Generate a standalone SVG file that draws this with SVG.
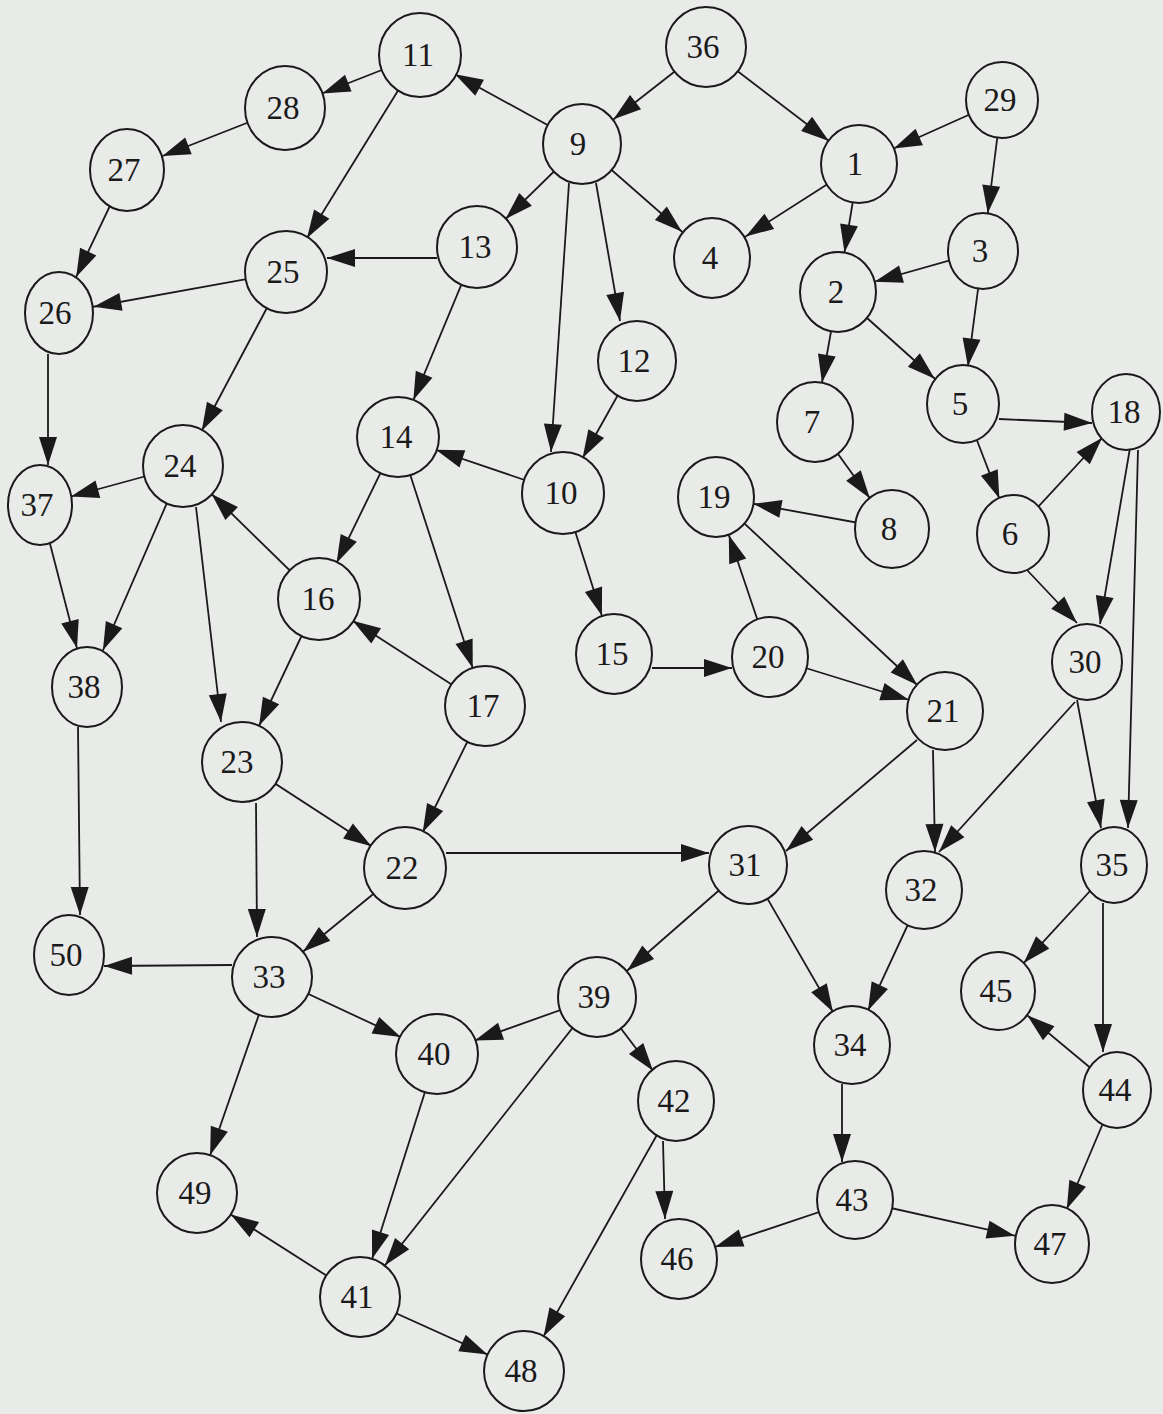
<svg xmlns="http://www.w3.org/2000/svg" width="1163" height="1414" viewBox="0 0 1163 1414">
<defs>
<style>
.bg{fill:#e9ebe9}
line{stroke:#1a1a1a;stroke-width:1.8;fill:none}
.a40{marker-end:url(#a40)}
.a38{marker-end:url(#a38)}
.a35{marker-end:url(#a35)}
.a32{marker-end:url(#a32)}
.a0{marker-end:url(#a0)}
ellipse{fill:#e9ebe9;stroke:#1a1a1a;stroke-width:2}
text{font-family:"Liberation Serif","Times New Roman",serif;font-size:33px;fill:#1a1a1a;text-anchor:middle}
</style>
<marker id="a40" viewBox="0 0 28 18" markerWidth="28" markerHeight="18" markerUnits="userSpaceOnUse" refX="68" refY="9" orient="auto" overflow="visible"><path d="M0,0 L28,9 L0,18 Z" fill="#1a1a1a"/></marker>
<marker id="a38" viewBox="0 0 28 18" markerWidth="28" markerHeight="18" markerUnits="userSpaceOnUse" refX="66" refY="9" orient="auto" overflow="visible"><path d="M0,0 L28,9 L0,18 Z" fill="#1a1a1a"/></marker>
<marker id="a35" viewBox="0 0 28 18" markerWidth="28" markerHeight="18" markerUnits="userSpaceOnUse" refX="63" refY="9" orient="auto" overflow="visible"><path d="M0,0 L28,9 L0,18 Z" fill="#1a1a1a"/></marker>
<marker id="a32" viewBox="0 0 28 18" markerWidth="28" markerHeight="18" markerUnits="userSpaceOnUse" refX="60" refY="9" orient="auto" overflow="visible"><path d="M0,0 L28,9 L0,18 Z" fill="#1a1a1a"/></marker>
<marker id="a0" viewBox="0 0 28 18" markerWidth="28" markerHeight="18" markerUnits="userSpaceOnUse" refX="28" refY="9" orient="auto" overflow="visible"><path d="M0,0 L28,9 L0,18 Z" fill="#1a1a1a"/></marker>
</defs>
<rect class="bg" x="0" y="0" width="1163" height="1414"/>
<g id="connectors">
<line class="a40" x1="420" y1="55" x2="285" y2="108"/>
<line class="a38" x1="285" y1="108" x2="127" y2="170"/>
<line class="a40" x1="127" y1="170" x2="59" y2="313"/>
<line class="a40" x1="420" y1="55" x2="286" y2="272"/>
<line class="a40" x1="582" y1="144" x2="420" y2="55"/>
<line class="a40" x1="706" y1="47" x2="582" y2="144"/>
<line class="a38" x1="706" y1="47" x2="859" y2="164"/>
<line class="a38" x1="1002" y1="100" x2="859" y2="164"/>
<line class="a38" x1="1002" y1="100" x2="983" y2="251"/>
<line class="a40" x1="582" y1="144" x2="477" y2="247"/>
<line class="a40" x1="582" y1="144" x2="712" y2="258"/>
<line class="a0" x1="569" y1="183" x2="551" y2="452"/>
<line class="a0" x1="596" y1="183" x2="620" y2="321"/>
<line class="a40" x1="859" y1="164" x2="712" y2="258"/>
<line class="a40" x1="859" y1="164" x2="838" y2="292"/>
<line class="a38" x1="983" y1="251" x2="838" y2="292"/>
<line class="a38" x1="983" y1="251" x2="963" y2="404"/>
<line class="a40" x1="838" y1="292" x2="815" y2="422"/>
<line class="a38" x1="838" y1="292" x2="963" y2="404"/>
<line class="a0" x1="437" y1="258" x2="327" y2="258"/>
<line class="a40" x1="477" y1="247" x2="398" y2="437"/>
<line class="a35" x1="286" y1="272" x2="59" y2="313"/>
<line class="a40" x1="286" y1="272" x2="183" y2="466"/>
<line class="a0" x1="48" y1="354" x2="48" y2="465"/>
<line class="a40" x1="637" y1="361" x2="563" y2="493"/>
<line class="a40" x1="563" y1="493" x2="398" y2="437"/>
<line class="a0" x1="999" y1="419" x2="1092" y2="423"/>
<line class="a38" x1="963" y1="404" x2="1013" y2="534"/>
<line class="a38" x1="815" y1="422" x2="892" y2="529"/>
<line class="a38" x1="892" y1="529" x2="716" y2="497"/>
<line class="a35" x1="1013" y1="534" x2="1126" y2="412"/>
<line class="a0" x1="1027" y1="570" x2="1077" y2="623"/>
<line class="a0" x1="1130" y1="448" x2="1100" y2="624"/>
<line class="a0" x1="1138" y1="450" x2="1128" y2="828"/>
<line class="a32" x1="183" y1="466" x2="40" y2="505"/>
<line class="a40" x1="183" y1="466" x2="87" y2="687"/>
<line class="a0" x1="196" y1="507" x2="221" y2="722"/>
<line class="a40" x1="319" y1="599" x2="183" y2="466"/>
<line class="a40" x1="398" y1="437" x2="319" y2="599"/>
<line class="a40" x1="398" y1="437" x2="485" y2="706"/>
<line class="a40" x1="563" y1="493" x2="614" y2="654"/>
<line class="a0" x1="652" y1="668" x2="732" y2="668"/>
<line class="a40" x1="770" y1="657" x2="716" y2="497"/>
<line class="a38" x1="716" y1="497" x2="945" y2="711"/>
<line class="a38" x1="770" y1="657" x2="945" y2="711"/>
<line class="a40" x1="40" y1="505" x2="87" y2="687"/>
<line class="a40" x1="485" y1="706" x2="319" y2="599"/>
<line class="a40" x1="319" y1="599" x2="242" y2="762"/>
<line class="a40" x1="485" y1="706" x2="405" y2="868"/>
<line class="a40" x1="242" y1="762" x2="405" y2="868"/>
<line class="a0" x1="256" y1="803" x2="257" y2="937"/>
<line class="a0" x1="78" y1="727" x2="80" y2="915"/>
<line class="a0" x1="446" y1="853" x2="709" y2="853"/>
<line class="a40" x1="405" y1="868" x2="272" y2="977"/>
<line class="a0" x1="917" y1="740" x2="786" y2="851"/>
<line class="a0" x1="933" y1="750" x2="935" y2="852"/>
<line class="a0" x1="1075" y1="702" x2="939" y2="852"/>
<line class="a0" x1="1077" y1="700" x2="1101" y2="828"/>
<line class="a0" x1="232" y1="965" x2="104" y2="966"/>
<line class="a40" x1="272" y1="977" x2="437" y2="1054"/>
<line class="a40" x1="272" y1="977" x2="197" y2="1193"/>
<line class="a40" x1="748" y1="865" x2="597" y2="997"/>
<line class="a38" x1="748" y1="865" x2="852" y2="1045"/>
<line class="a38" x1="924" y1="890" x2="852" y2="1045"/>
<line class="a38" x1="1114" y1="865" x2="998" y2="991"/>
<line class="a0" x1="1103" y1="903" x2="1103" y2="1052"/>
<line class="a38" x1="1117" y1="1090" x2="998" y2="991"/>
<line class="a38" x1="1117" y1="1090" x2="1052" y2="1244"/>
<line class="a40" x1="597" y1="997" x2="437" y2="1054"/>
<line class="a38" x1="597" y1="997" x2="676" y2="1101"/>
<line class="a40" x1="597" y1="997" x2="360" y2="1297"/>
<line class="a40" x1="437" y1="1054" x2="360" y2="1297"/>
<line class="a0" x1="663" y1="1141" x2="665" y2="1219"/>
<line class="a40" x1="676" y1="1101" x2="524" y2="1371"/>
<line class="a0" x1="842" y1="1084" x2="842" y2="1162"/>
<line class="a38" x1="855" y1="1200" x2="679" y2="1259"/>
<line class="a38" x1="855" y1="1200" x2="1052" y2="1244"/>
<line class="a40" x1="360" y1="1297" x2="197" y2="1193"/>
<line class="a40" x1="360" y1="1297" x2="524" y2="1371"/>
</g>
<g id="n1"><ellipse cx="859" cy="164" rx="38" ry="39"/><text x="855" y="175">1</text></g>
<g id="n2"><ellipse cx="838" cy="292" rx="38" ry="40"/><text x="836" y="303">2</text></g>
<g id="n3"><ellipse cx="983" cy="251" rx="35" ry="38"/><text x="980" y="262">3</text></g>
<g id="n4"><ellipse cx="712" cy="258" rx="38" ry="40"/><text x="710" y="269">4</text></g>
<g id="n5"><ellipse cx="963" cy="404" rx="36" ry="39"/><text x="960" y="415">5</text></g>
<g id="n6"><ellipse cx="1013" cy="534" rx="36" ry="39"/><text x="1010" y="545">6</text></g>
<g id="n7"><ellipse cx="815" cy="422" rx="38" ry="40"/><text x="812" y="433">7</text></g>
<g id="n8"><ellipse cx="892" cy="529" rx="37" ry="39"/><text x="889" y="540">8</text></g>
<g id="n9"><ellipse cx="582" cy="144" rx="39" ry="40"/><text x="578" y="155">9</text></g>
<g id="n10"><ellipse cx="563" cy="493" rx="41" ry="41"/><text x="561" y="504">10</text></g>
<g id="n11"><ellipse cx="420" cy="55" rx="41" ry="42"/><text x="418" y="66">11</text></g>
<g id="n12"><ellipse cx="637" cy="361" rx="39" ry="40"/><text x="634" y="372">12</text></g>
<g id="n13"><ellipse cx="477" cy="247" rx="40" ry="41"/><text x="475" y="258">13</text></g>
<g id="n14"><ellipse cx="398" cy="437" rx="41" ry="40"/><text x="396" y="448">14</text></g>
<g id="n15"><ellipse cx="614" cy="654" rx="38" ry="40"/><text x="612" y="665">15</text></g>
<g id="n16"><ellipse cx="319" cy="599" rx="41" ry="41"/><text x="318" y="610">16</text></g>
<g id="n17"><ellipse cx="485" cy="706" rx="40" ry="40"/><text x="483" y="717">17</text></g>
<g id="n18"><ellipse cx="1126" cy="412" rx="34" ry="38"/><text x="1124" y="423">18</text></g>
<g id="n19"><ellipse cx="716" cy="497" rx="38" ry="40"/><text x="714" y="508">19</text></g>
<g id="n20"><ellipse cx="770" cy="657" rx="38" ry="40"/><text x="768" y="668">20</text></g>
<g id="n21"><ellipse cx="945" cy="711" rx="38" ry="39"/><text x="943" y="722">21</text></g>
<g id="n22"><ellipse cx="405" cy="868" rx="41" ry="41"/><text x="402" y="879">22</text></g>
<g id="n23"><ellipse cx="242" cy="762" rx="40" ry="40"/><text x="237" y="773">23</text></g>
<g id="n24"><ellipse cx="183" cy="466" rx="40" ry="41"/><text x="180" y="477">24</text></g>
<g id="n25"><ellipse cx="286" cy="272" rx="41" ry="41"/><text x="283" y="283">25</text></g>
<g id="n26"><ellipse cx="59" cy="313" rx="34" ry="41"/><text x="55" y="324">26</text></g>
<g id="n27"><ellipse cx="127" cy="170" rx="37" ry="41"/><text x="124" y="181">27</text></g>
<g id="n28"><ellipse cx="285" cy="108" rx="40" ry="42"/><text x="283" y="119">28</text></g>
<g id="n29"><ellipse cx="1002" cy="100" rx="36" ry="38"/><text x="1000" y="111">29</text></g>
<g id="n30"><ellipse cx="1087" cy="662" rx="35" ry="38"/><text x="1085" y="673">30</text></g>
<g id="n31"><ellipse cx="748" cy="865" rx="39" ry="39"/><text x="745" y="876">31</text></g>
<g id="n32"><ellipse cx="924" cy="890" rx="38" ry="39"/><text x="921" y="901">32</text></g>
<g id="n33"><ellipse cx="272" cy="977" rx="40" ry="40"/><text x="269" y="988">33</text></g>
<g id="n34"><ellipse cx="852" cy="1045" rx="38" ry="39"/><text x="850" y="1056">34</text></g>
<g id="n35"><ellipse cx="1114" cy="865" rx="33" ry="38"/><text x="1112" y="876">35</text></g>
<g id="n36"><ellipse cx="706" cy="47" rx="40" ry="40"/><text x="703" y="58">36</text></g>
<g id="n37"><ellipse cx="40" cy="505" rx="32" ry="40"/><text x="37" y="516">37</text></g>
<g id="n38"><ellipse cx="87" cy="687" rx="35" ry="40"/><text x="84" y="698">38</text></g>
<g id="n39"><ellipse cx="597" cy="997" rx="39" ry="40"/><text x="594" y="1008">39</text></g>
<g id="n40"><ellipse cx="437" cy="1054" rx="41" ry="40"/><text x="434" y="1065">40</text></g>
<g id="n41"><ellipse cx="360" cy="1297" rx="40" ry="40"/><text x="357" y="1308">41</text></g>
<g id="n42"><ellipse cx="676" cy="1101" rx="38" ry="40"/><text x="674" y="1112">42</text></g>
<g id="n43"><ellipse cx="855" cy="1200" rx="38" ry="39"/><text x="852" y="1211">43</text></g>
<g id="n44"><ellipse cx="1117" cy="1090" rx="34" ry="38"/><text x="1115" y="1101">44</text></g>
<g id="n45"><ellipse cx="998" cy="991" rx="37" ry="39"/><text x="996" y="1002">45</text></g>
<g id="n46"><ellipse cx="679" cy="1259" rx="38" ry="40"/><text x="677" y="1270">46</text></g>
<g id="n47"><ellipse cx="1052" cy="1244" rx="37" ry="39"/><text x="1050" y="1255">47</text></g>
<g id="n48"><ellipse cx="524" cy="1371" rx="40" ry="40"/><text x="521" y="1382">48</text></g>
<g id="n49"><ellipse cx="197" cy="1193" rx="40" ry="40"/><text x="195" y="1204">49</text></g>
<g id="n50"><ellipse cx="69" cy="955" rx="35" ry="40"/><text x="66" y="966">50</text></g>
</svg>
